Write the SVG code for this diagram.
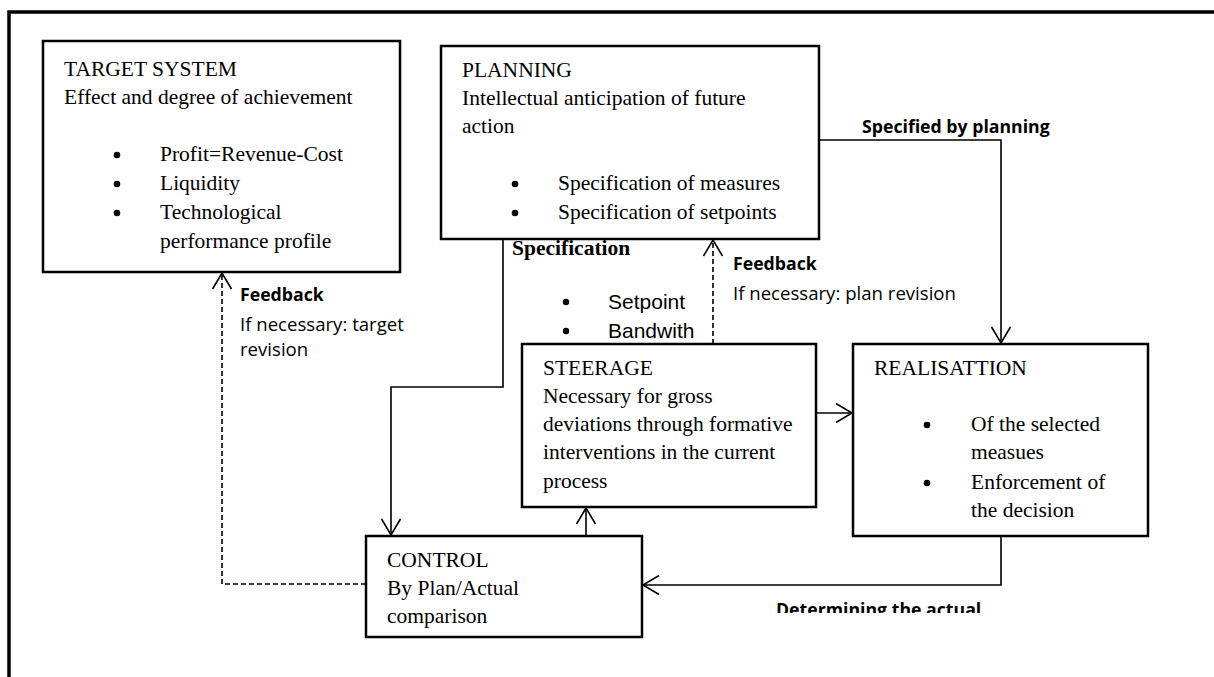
<svg xmlns="http://www.w3.org/2000/svg" width="1214" height="677" viewBox="0 0 1214 677">
  <style>
    .box { fill: #fff; stroke: #000; stroke-width: 2.5; }
    .frame { fill: none; stroke: #000; stroke-width: 3.5; }
    .line { fill: none; stroke: #000; stroke-width: 1.6; }
    .dash { fill: none; stroke: #000; stroke-width: 1.6; stroke-dasharray: 5 3; }
    .serif { font-family: "Liberation Serif", "Times New Roman", serif; font-size: 21.5px; fill: #000; }
    .serifb { font-family: "Liberation Serif", "Times New Roman", serif; font-size: 21.5px; font-weight: bold; fill: #000; }
    .sans { font-family: "Open Sans", "Noto Sans", sans-serif; font-size: 18.6px; fill: #000; }
    .sansb { font-family: "Open Sans", "Noto Sans", sans-serif; font-size: 17.7px; font-weight: bold; fill: #000; }
    .arial { font-family: "Liberation Sans", Arial, sans-serif; font-size: 21px; fill: #000; }
    .dot { fill: #000; }
  </style>
  <defs>
    <marker id="open" viewBox="0 0 20 20" refX="18" refY="10" markerWidth="20" markerHeight="20" markerUnits="userSpaceOnUse" orient="auto">
      <path d="M2,0.5 L18,10 L2,19.5" fill="none" stroke="#000" stroke-width="1.6"/>
    </marker>
    <clipPath id="cutoff">
      <rect x="0" y="0" width="1214" height="613"/>
    </clipPath>
  </defs>

  <rect width="1214" height="677" fill="#fff"/>

  <!-- outer frame: top and left edges -->
  <path class="frame" d="M9,677 V12 H1214"/>

  <!-- connectors -->
  <g id="connectors">
    <!-- planning -> realisation -->
    <path class="line" d="M819,140 H1001 V343" marker-end="url(#open)"/>
    <!-- planning -> control (specification) -->
    <path class="line" d="M503,239 V387 H391 V535" marker-end="url(#open)"/>
    <!-- steerage -> realisation -->
    <path class="line" d="M816,413 H852" marker-end="url(#open)"/>
    <!-- control -> steerage -->
    <path class="line" d="M586,536 V508" marker-end="url(#open)"/>
    <!-- realisation -> control -->
    <path class="line" d="M1001,536 V585 H643" marker-end="url(#open)"/>
    <!-- feedback control -> target system -->
    <path class="dash" d="M366,584 H222 V273" marker-end="url(#open)"/>
    <!-- feedback steerage -> planning -->
    <path class="dash" d="M713,344 V240" marker-end="url(#open)"/>

    <text class="sansb" x="862" y="133">Specified by planning</text>
    <text class="serifb" x="512" y="255">Specification</text>
    <g>
      <circle class="dot" cx="566" cy="302" r="3.2"/>
      <text class="arial" x="608" y="309">Setpoint</text>
      <circle class="dot" cx="566" cy="331" r="3.2"/>
      <text class="arial" x="608" y="338">Bandwith</text>
    </g>
    <text class="sansb" x="733" y="270">Feedback</text>
    <text class="sans" x="733" y="300">If necessary: plan revision</text>
    <text class="sansb" x="240" y="301">Feedback</text>
    <text class="sans" x="240" y="331">If necessary: target</text>
    <text class="sans" x="240" y="356">revision</text>
    <text class="sansb" x="776" y="616" clip-path="url(#cutoff)">Determining the actual</text>
  </g>

  <!-- target system -->
  <g id="target-system">
    <rect class="box" x="43" y="41" width="357" height="231"/>
    <text class="serif" x="64" y="76">TARGET SYSTEM</text>
    <text class="serif" x="64" y="104">Effect and degree of achievement</text>
    <circle class="dot" cx="117" cy="155" r="3.3"/>
    <text class="serif" x="160" y="161">Profit=Revenue-Cost</text>
    <circle class="dot" cx="117" cy="184" r="3.3"/>
    <text class="serif" x="160" y="190">Liquidity</text>
    <circle class="dot" cx="117" cy="213" r="3.3"/>
    <text class="serif" x="160" y="219">Technological</text>
    <text class="serif" x="160" y="248">performance profile</text>
  </g>

  <!-- planning -->
  <g id="planning">
    <rect class="box" x="441" y="46" width="378" height="193"/>
    <text class="serif" x="462" y="77">PLANNING</text>
    <text class="serif" x="462" y="105">Intellectual anticipation of future</text>
    <text class="serif" x="462" y="133">action</text>
    <circle class="dot" cx="515" cy="184" r="3.3"/>
    <text class="serif" x="558" y="190">Specification of measures</text>
    <circle class="dot" cx="515" cy="213" r="3.3"/>
    <text class="serif" x="558" y="219">Specification of setpoints</text>
  </g>

  <!-- steerage -->
  <g id="steerage">
    <rect class="box" x="522" y="344" width="294" height="163"/>
    <text class="serif" x="543" y="375">STEERAGE</text>
    <text class="serif" x="543" y="403">Necessary for gross</text>
    <text class="serif" x="543" y="431">deviations through formative</text>
    <text class="serif" x="543" y="459">interventions in the current</text>
    <text class="serif" x="543" y="488">process</text>
  </g>

  <!-- realisation -->
  <g id="realisation">
    <rect class="box" x="853" y="344" width="295" height="192"/>
    <text class="serif" x="874" y="375">REALISATTION</text>
    <circle class="dot" cx="927" cy="425" r="3.3"/>
    <text class="serif" x="971" y="431">Of the selected</text>
    <text class="serif" x="971" y="459">measues</text>
    <circle class="dot" cx="927" cy="483" r="3.3"/>
    <text class="serif" x="971" y="489">Enforcement of</text>
    <text class="serif" x="971" y="517">the decision</text>
  </g>

  <!-- control -->
  <g id="control">
    <rect class="box" x="366" y="536" width="276" height="101"/>
    <text class="serif" x="387" y="567">CONTROL</text>
    <text class="serif" x="387" y="595">By Plan/Actual</text>
    <text class="serif" x="387" y="623">comparison</text>
  </g>
</svg>
